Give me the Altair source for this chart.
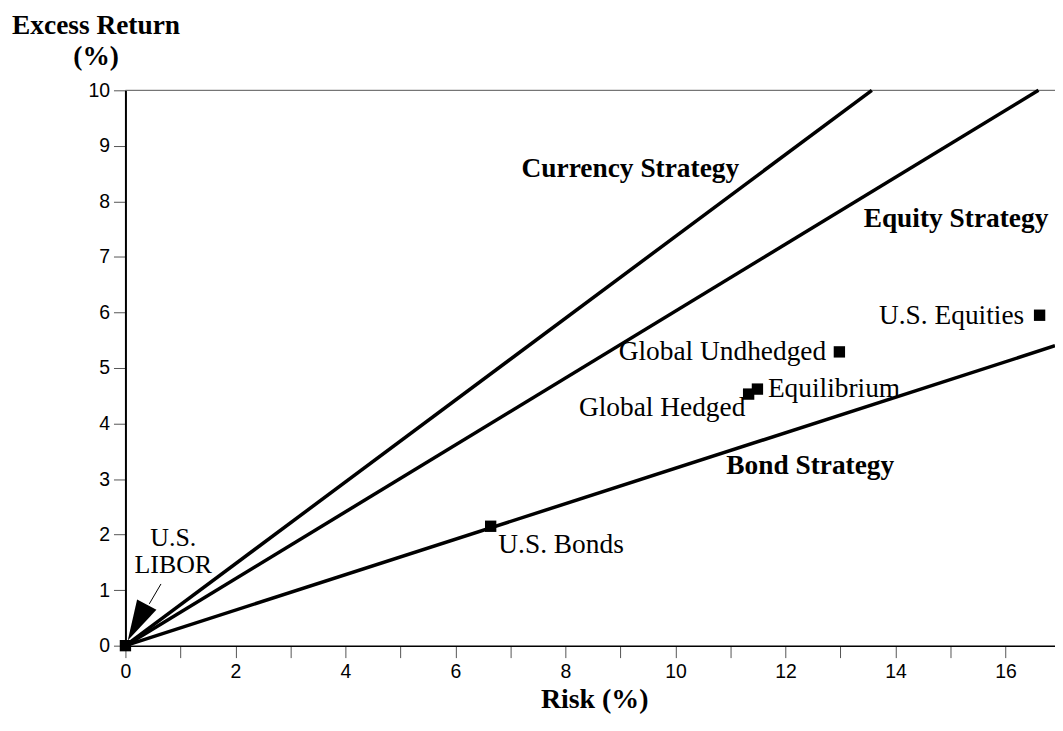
import altair as alt
import pandas as pd

# --- data -------------------------------------------------------------
strategy_names = ["Currency Strategy", "Equity Strategy", "Bond Strategy"]
strategy_end_risk = [13.57, 16.6, 16.9]
strategy_end_return = [10.0, 10.0, 5.4]

point_names = ["U.S. LIBOR", "U.S. Bonds", "Global Hedged", "Equilibrium",
               "Global Undhedged", "U.S. Equities"]
point_risk = [0.0, 6.64, 11.33, 11.49, 12.98, 16.62]
point_return = [0.0, 2.15, 4.53, 4.62, 5.29, 5.95]

# annotation texts and their anchors (data units)
bold_labels = ["Currency Strategy", "Equity Strategy", "Bond Strategy"]
bold_label_x = [9.18, 15.1, 12.45]
bold_label_y = [8.58, 7.69, 3.23]

left_labels = ["Equilibrium", "U.S. Bonds"]
left_label_x = [11.68, 6.78]
left_label_y = [4.62, 1.81]

right_labels = ["Global Undhedged", "Global Hedged", "U.S. Equities"]
right_label_x = [12.74, 11.27, 16.34]
right_label_y = [5.29, 4.28, 5.93]

center_labels = ["U.S.", "LIBOR"]
center_label_x = [0.87, 0.87]
center_label_y = [1.94, 1.46]

arrow_x = [0.646, 0.434]
arrow_y = [1.111, 0.753]
arrowhead_x = [0.215]
arrowhead_y = [0.416]

x_ticks = list(range(0, 17))
y_ticks = list(range(0, 11))

# --- tables -----------------------------------------------------------
rows = []
for n, ex, ey in zip(strategy_names, strategy_end_risk, strategy_end_return):
    rows.append({"strategy": n, "risk": 0.0, "ret": 0.0})
    rows.append({"strategy": n, "risk": ex, "ret": ey})
lines_df = pd.DataFrame(rows)
points_df = pd.DataFrame({"name": point_names, "risk": point_risk, "ret": point_return})
bold_df = pd.DataFrame({"t": bold_labels, "x": bold_label_x, "y": bold_label_y})
left_df = pd.DataFrame({"t": left_labels, "x": left_label_x, "y": left_label_y})
right_df = pd.DataFrame({"t": right_labels, "x": right_label_x, "y": right_label_y})
center_df = pd.DataFrame({"t": center_labels, "x": center_label_x, "y": center_label_y})
arrow_df = pd.DataFrame({"x": arrow_x, "y": arrow_y})
head_df = pd.DataFrame({"x": arrowhead_x, "y": arrowhead_y})
top_df = pd.DataFrame({"y": [10]})

SERIF = "Liberation Serif"
SANS = "Liberation Sans"
FS = 27.5

xscale = alt.Scale(domain=[0, 16.9], nice=False, zero=False)
yscale = alt.Scale(domain=[0, 10], nice=False)

xaxis = alt.Axis(
    values=x_ticks, format="d",
    labelExpr="datum.value % 2 == 0 ? datum.label : ''",
    domainWidth=1.5, labelPadding=5,
    title="Risk (%)", titleFontSize=28,
    titleBaseline="alphabetic", titleY=62, titleX=471,
)
yaxis = alt.Axis(
    values=y_ticks, format="d", domainWidth=2, labelPadding=4,
    title=["Excess Return", "(%)"], titleFontSize=27.5, titleAngle=0,
    titleAlign="center", titleBaseline="alphabetic", titleX=-30, titleY=-57,
    titleLineHeight=31,
)

X = lambda f: alt.X(f, scale=xscale, axis=xaxis)
Y = lambda f: alt.Y(f, scale=yscale, axis=yaxis)

top_rule = alt.Chart(top_df).mark_rule(color="#555555", strokeWidth=1).encode(y=Y("y:Q"))

lines = alt.Chart(lines_df).mark_line(color="black", strokeWidth=3.5).encode(
    x=X("risk:Q"), y=Y("ret:Q"), detail="strategy:N",
)

points = alt.Chart(points_df).mark_point(
    shape="square", filled=True, color="black", size=130, opacity=1
).encode(x=X("risk:Q"), y=Y("ret:Q"))

bold_text = alt.Chart(bold_df).mark_text(
    font=SERIF, fontSize=FS, fontWeight="bold", color="black",
    align="center", baseline="middle"
).encode(x=X("x:Q"), y=Y("y:Q"), text="t:N")

left_text = alt.Chart(left_df).mark_text(
    font=SERIF, fontSize=FS, color="black", align="left", baseline="middle"
).encode(x=X("x:Q"), y=Y("y:Q"), text="t:N")

right_text = alt.Chart(right_df).mark_text(
    font=SERIF, fontSize=FS, color="black", align="right", baseline="middle"
).encode(x=X("x:Q"), y=Y("y:Q"), text="t:N")

center_text = alt.Chart(center_df).mark_text(
    font=SERIF, fontSize=26, color="black", align="center", baseline="middle"
).encode(x=X("x:Q"), y=Y("y:Q"), text="t:N")

arrow_line = alt.Chart(arrow_df).mark_line(color="black", strokeWidth=1).encode(
    x=X("x:Q"), y=Y("y:Q")
)

arrow_head = alt.Chart(head_df).mark_point(
    shape="M0,-1L0.54,1L-0.54,1Z", filled=True, color="black", opacity=1,
    size=1656, angle=208, strokeWidth=0
).encode(x=X("x:Q"), y=Y("y:Q"))

chart = alt.layer(
    top_rule, lines, arrow_line, arrow_head, points,
    bold_text, left_text, right_text, center_text
).properties(
    width=934, height=558,
    autosize=alt.AutoSizeParams(type="none"),
    padding={"left": 118, "top": 81, "right": 0, "bottom": 76},
    background="white",
).configure_view(stroke=None).configure_axis(
    tickSize=12, tickColor="#555555", tickWidth=1,
    domainColor="black", grid=False,
    labelFont=SANS, labelFontSize=19.5, labelColor="black",
    labelFlush=False, labelOverlap=False,
    titleFont=SERIF, titleFontWeight="bold", titleColor="black",
)

chart.save("out.html", embed_options={"renderer": "svg", "actions": False})
